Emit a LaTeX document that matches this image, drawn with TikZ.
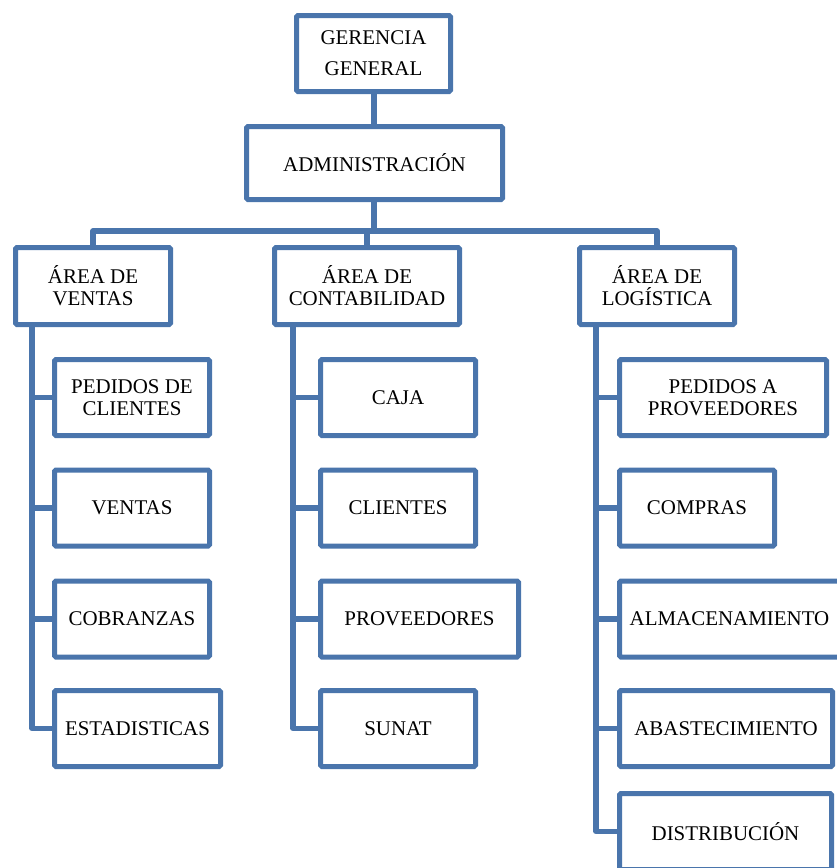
\documentclass[tikz,border=0pt]{standalone}
\usepackage{fontspec}
\setmainfont{Liberation Serif}
\definecolor{orgblue}{RGB}{74,117,172}
\begin{document}
\begin{tikzpicture}[x=0.75pt,y=-0.75pt,
  box/.style={draw=orgblue,line width=3.75pt,fill=white,inner sep=0pt,align=center,
    font=\fontsize{15.7}{16.5}\selectfont,rounded corners=1pt},
  head/.style={box,minimum width=#1*0.75pt,minimum height=57.75pt},
  sub/.style={box,anchor=west,minimum width=#1*0.75pt,minimum height=57pt},
  link/.style={draw=orgblue,line width=3.9pt,line join=round}]
\useasboundingbox (0,0) rectangle (837,868);
\coordinate (bus) at (374,231);
\coordinate (vtr) at (32,0);
\coordinate (ctr) at (293,0);
\coordinate (ltr) at (596,0);
% top
\node[box,minimum width=154*0.75pt,minimum height=57pt,font=\fontsize{15.7}{23}\selectfont] (gg) at (373.5,53.5) {GERENCIA\\GENERAL};
\node[box,minimum width=256*0.75pt,minimum height=54.75pt] (adm) at (374.5,163) {ADMINISTRACIÓN};
\node[head=155] (ven) at (93,286) {ÁREA DE\\VENTAS};
\node[head=185] (con) at (367,286) {ÁREA DE\\CONTABILIDAD};
\node[head=155] (log) at (657,286) {ÁREA DE\\LOGÍSTICA};
% ventas
\node[sub=155] (v1) at (52,397.5) {PEDIDOS DE\\CLIENTES};
\node[sub=155] (v2) at (52,508) {VENTAS};
\node[sub=155] (v3) at (52,619) {COBRANZAS};
\node[sub=166] (v4) at (52,728.5) {ESTADISTICAS};
% contabilidad
\node[sub=155] (c1) at (318,397.5) {CAJA};
\node[sub=155] (c2) at (318,508) {CLIENTES};
\node[sub=198] (c3) at (318,619) {PROVEEDORES};
\node[sub=155] (c4) at (318,728.5) {SUNAT};
% logistica
\node[sub=207] (l1) at (617,397.5) {PEDIDOS A\\PROVEEDORES};
\node[sub=155] (l2) at (617,508) {COMPRAS};
\node[sub=220] (l3) at (617,619) {ALMACENAMIENTO};
\node[sub=213] (l4) at (617,728.5) {ABASTECIMIENTO};
\node[sub=212] (l5) at (617,831.5) {DISTRIBUCIÓN};
% links
\draw[link] (gg.south -| bus) -- (adm.north -| bus);
\draw[link] (adm.south -| bus) -- (bus);
\draw[link] (ven.north) -- (ven.north |- bus) -- (log.north |- bus) -- (log.north);
\draw[link] (con.north) -- (con.north |- bus);
\draw[link] (vtr |- ven.south) -- (vtr |- v4.west) -- (v4.west);
\foreach \n in {v1,v2,v3} \draw[link] (vtr |- \n.west) -- (\n.west);
\draw[link] (ctr |- con.south) -- (ctr |- c4.west) -- (c4.west);
\foreach \n in {c1,c2,c3} \draw[link] (ctr |- \n.west) -- (\n.west);
\draw[link] (ltr |- log.south) -- (ltr |- l5.west) -- (l5.west);
\foreach \n in {l1,l2,l3,l4} \draw[link] (ltr |- \n.west) -- (\n.west);
\end{tikzpicture}
\end{document}
